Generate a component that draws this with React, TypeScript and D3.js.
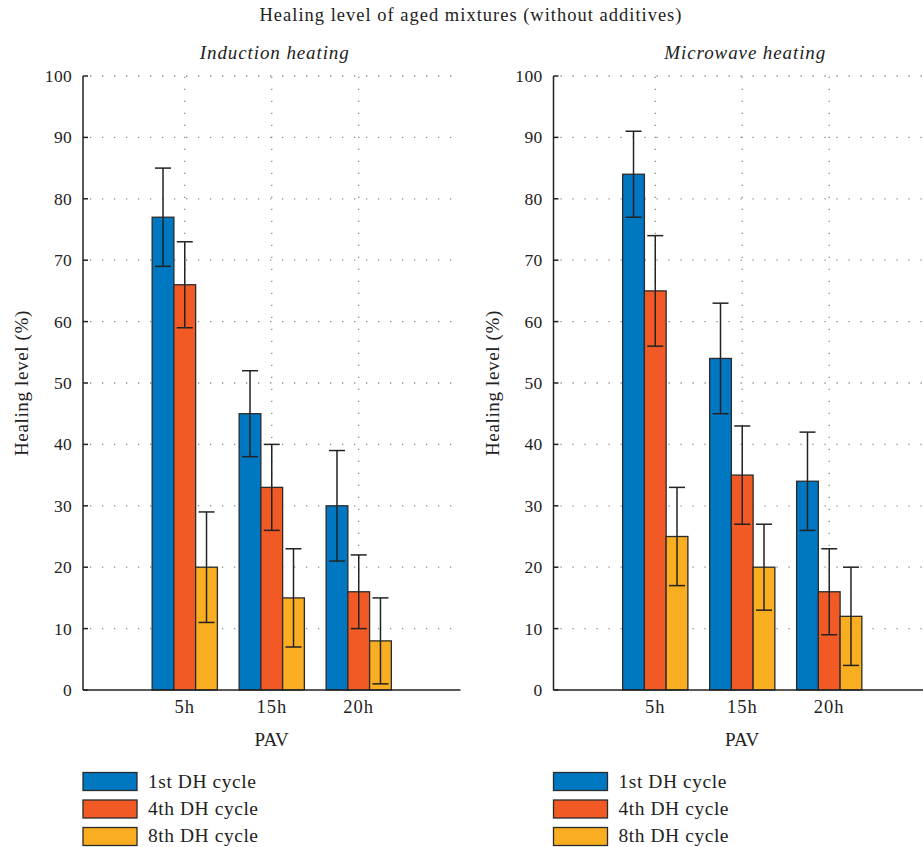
import React from 'react';
import * as d3 from 'd3';

const categories = ['5h', '15h', '20h'];
const seriesNames = ['1st DH cycle', '4th DH cycle', '8th DH cycle'];
const seriesColors = ['#0077C1', '#F15A24', '#F9AE21'];
const yTicks = [0, 10, 20, 30, 40, 50, 60, 70, 80, 90, 100];

// Induction heating
const induction1st = [77, 45, 30];
const induction1stLow = [69, 38, 21];
const induction1stHigh = [85, 52, 39];
const induction4th = [66, 33, 16];
const induction4thLow = [59, 26, 10];
const induction4thHigh = [73, 40, 22];
const induction8th = [20, 15, 8];
const induction8thLow = [11, 7, 1];
const induction8thHigh = [29, 23, 15];

// Microwave heating
const microwave1st = [84, 54, 34];
const microwave1stLow = [77, 45, 26];
const microwave1stHigh = [91, 63, 42];
const microwave4th = [65, 35, 16];
const microwave4thLow = [56, 27, 9];
const microwave4thHigh = [74, 43, 23];
const microwave8th = [25, 20, 12];
const microwave8thLow = [17, 13, 4];
const microwave8thHigh = [33, 27, 20];

const mainTitle = 'Healing level of aged mixtures (without additives)';
const panelTitles = ['Induction heating', 'Microwave heating'];
const yLabel = 'Healing level (%)';
const xLabel = 'PAV';

const FONT = '"Liberation Serif", "Times New Roman", serif';

type Series = { mean: number[]; low: number[]; high: number[] };

const panels: { title: string; series: Series[] }[] = [
  {
    title: panelTitles[0],
    series: [
      { mean: induction1st, low: induction1stLow, high: induction1stHigh },
      { mean: induction4th, low: induction4thLow, high: induction4thHigh },
      { mean: induction8th, low: induction8thLow, high: induction8thHigh },
    ],
  },
  {
    title: panelTitles[1],
    series: [
      { mean: microwave1st, low: microwave1stLow, high: microwave1stHigh },
      { mean: microwave4th, low: microwave4thLow, high: microwave4thHigh },
      { mean: microwave8th, low: microwave8thLow, high: microwave8thHigh },
    ],
  },
];

const panelX0 = [83, 553.5];
const plotWidth = 377.5;
const plotTop = 76;
const plotBottom = 690;

function Panel({ x0, title, series }: { x0: number; title: string; series: Series[] }) {
  const x = d3.scaleLinear().domain([-0.17, 4.17]).range([x0, x0 + plotWidth]);
  const y = d3.scaleLinear().domain([0, 100]).range([plotBottom, plotTop]);
  const barW = 0.25;
  const capHalf = 8;
  const right = x0 + plotWidth;
  const centerX = (x0 + right) / 2;
  const catPos = categories.map((_, i) => i + 1);
  const gridColor = '#8a8a8a';
  return (
    <g>
      {/* grid */}
      {yTicks.filter((t) => t > 0).map((t) => (
        <line key={'hg' + t} x1={x0} x2={right} y1={y(t)} y2={y(t)} stroke={gridColor}
          strokeWidth={1.3} strokeDasharray="1.3 10.7" strokeDashoffset={-7} />
      ))}
      {catPos.map((c) => (
        <line key={'vg' + c} x1={x(c)} x2={x(c)} y1={plotBottom} y2={plotTop} stroke={gridColor}
          strokeWidth={1.3} strokeDasharray="1.3 10.7" />
      ))}
      {/* bars */}
      {series.map((s, si) =>
        s.mean.map((v, ci) => {
          const cx = catPos[ci] + (si - 1) * barW;
          const xl = x(cx - barW / 2);
          const xr = x(cx + barW / 2);
          return (
            <rect key={'b' + si + ci} x={xl} y={y(v)} width={xr - xl} height={y(0) - y(v)}
              fill={seriesColors[si]} stroke="#2b2b2b" strokeWidth={1.3} />
          );
        })
      )}
      {/* error bars */}
      {series.map((s, si) =>
        s.mean.map((_, ci) => {
          const cx = x(catPos[ci] + (si - 1) * barW);
          return (
            <g key={'e' + si + ci} stroke="#222" strokeWidth={1.5}>
              <line x1={cx} x2={cx} y1={y(s.low[ci])} y2={y(s.high[ci])} />
              <line x1={cx - capHalf} x2={cx + capHalf} y1={y(s.low[ci])} y2={y(s.low[ci])} />
              <line x1={cx - capHalf} x2={cx + capHalf} y1={y(s.high[ci])} y2={y(s.high[ci])} />
            </g>
          );
        })
      )}
      {/* axes */}
      <line x1={x0} x2={x0} y1={plotTop} y2={plotBottom} stroke="#222" strokeWidth={1.5} />
      <line x1={x0} x2={right} y1={plotBottom} y2={plotBottom} stroke="#222" strokeWidth={1.6} />
      {yTicks.map((t) => (
        <g key={'yt' + t}>
          <line x1={x0} x2={x0 + 5} y1={y(t)} y2={y(t)} stroke="#222" strokeWidth={1.5} />
          <text x={x0 - 11} y={y(t) + 6} textAnchor="end" fontFamily={FONT} fontSize={17.5} fill="#222"
            letterSpacing={0.3}>
            {t}
          </text>
        </g>
      ))}
      {categories.map((c, i) => (
        <text key={'xt' + c} x={x(catPos[i])} y={713} textAnchor="middle" fontFamily={FONT}
          fontSize={18.5} fill="#222" letterSpacing={1}>
          {c}
        </text>
      ))}
      <text x={centerX} y={746} textAnchor="middle" fontFamily={FONT} fontSize={19} fill="#222" letterSpacing={0.3}>
        {xLabel}
      </text>
      <text transform={`translate(${x0 - 55},${(plotTop + plotBottom) / 2}) rotate(-90)`} textAnchor="middle"
        fontFamily={FONT} fontSize={19} fill="#222" letterSpacing={0.65}>
        {yLabel}
      </text>
      <text x={centerX + 3} y={59} textAnchor="middle" fontFamily={FONT} fontStyle="italic" fontSize={19} fill="#222"
        letterSpacing={0.9}>
        {title}
      </text>
      {/* legend */}
      {seriesNames.map((n, i) => (
        <g key={'lg' + i}>
          <rect x={x0} y={772.5 + i * 27.5} width={54} height={18} fill={seriesColors[i]} stroke="#2b2b2b" strokeWidth={1.3} />
          <text x={x0 + 65} y={788 + i * 27} fontFamily={FONT} fontSize={19.5} fill="#222" letterSpacing={0.55}>
            {n}
          </text>
        </g>
      ))}
    </g>
  );
}

export default function App() {
  return (
    <div style={{ position: 'absolute', left: 0, top: 0 }}>
      <svg width={923} height={847} style={{ display: 'block', background: '#fff' }}>
        <text x={471} y={21} textAnchor="middle" fontFamily={FONT} fontSize={18.5} fill="#222" letterSpacing={1}>
          {mainTitle}
        </text>
        {panels.map((p, i) => (
          <Panel key={i} x0={panelX0[i]} title={p.title} series={p.series} />
        ))}
      </svg>
    </div>
  );
}
